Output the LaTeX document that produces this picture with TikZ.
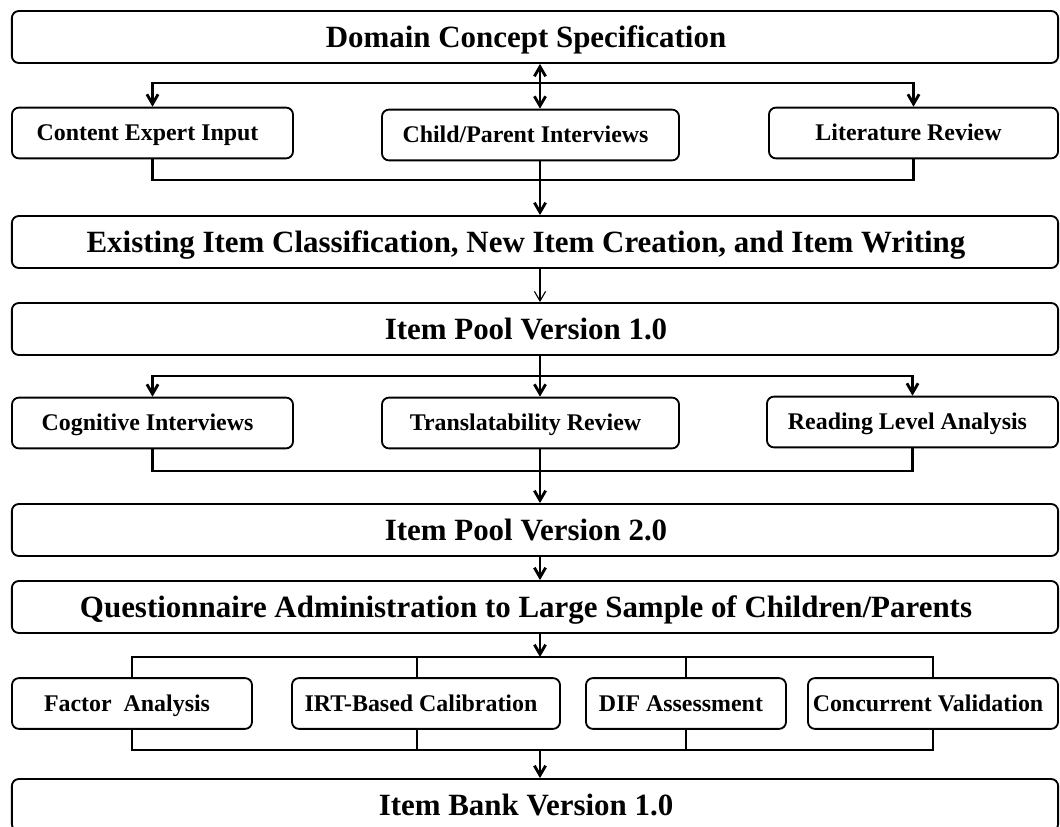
\documentclass[tikz,border=0pt]{standalone}
\usepackage{fontspec}
\setmainfont{Liberation Serif}
\usetikzlibrary{arrows.meta}

\tikzset{
	bigbox/.style={draw,line width=1.3pt,rounded corners=5pt,inner sep=0pt,
		minimum width=26.15cm,minimum height=1.3cm,text height=14.5pt,text depth=0pt,
		font=\fontsize{22}{25}\selectfont\bfseries,execute at end node=\hspace*{0.45cm}},
	smallbox/.style={draw,line width=1.3pt,rounded corners=5pt,inner sep=0pt,
		minimum height=1.27cm,text height=11.2pt,text depth=0pt,
		font=\fontsize{17}{20}\selectfont\bfseries,execute at end node=\hspace*{0.25cm}},
	link/.style={line width=2pt},
	thinlink/.style={line width=0.8pt},
	>={Straight Barb[length=2.4mm,width=2.8mm]}
}

\begin{document}
\begin{tikzpicture}[x=0.025cm,y=-0.025cm]
	\useasboundingbox (0,0) rectangle (1060,827);
	\node[bigbox] (dcs) at (535,37) {Domain Concept Specification};
	\node[smallbox,minimum width=7.025cm] (cei) at (152.5,133) {Content Expert Input};
	\node[smallbox,minimum width=7.425cm] (cpi) at (530.5,135) {Child/Parent Interviews};
	\node[smallbox,minimum width=7.225cm] (lit) at (913.5,133) {Literature Review};
	\node[bigbox] (eic) at (535,242) {Existing Item Classification, New Item Creation, and Item Writing};
	\node[bigbox] (ip1) at (535,329) {Item Pool Version 1.0};
	\node[smallbox,minimum width=7.025cm] (cog) at (152.5,423) {Cognitive Interviews};
	\node[smallbox,minimum width=7.425cm] (tra) at (530.5,423) {Translatability Review};
	\node[smallbox,minimum width=7.275cm] (rla) at (912.5,422) {Reading Level Analysis};
	\node[bigbox] (ip2) at (535,530) {Item Pool Version 2.0};
	\node[bigbox] (qa) at (535,607) {Questionnaire Administration to Large Sample of Children/Parents};
	\node[smallbox,minimum width=6cm] (fa) at (132,703.5) {Factor\ \ Analysis};
	\node[smallbox,minimum width=6.7cm] (irt) at (426,703.5) {IRT-Based Calibration};
	\node[smallbox,minimum width=5cm] (dif) at (686,703.5) {DIF Assessment};
	\node[smallbox,minimum width=6.25cm] (cv) at (933,703.5) {Concurrent Validation};
	\node[bigbox] (ib) at (535,805) {Item Bank Version 1.0};

	\coordinate (j1) at (540,83);
	\coordinate (j2) at (540,180);
	\coordinate (j3) at (540,376);
	\coordinate (j4) at (540,471);
	\coordinate (j5) at (540,657);
	\coordinate (j6) at (540,750);
	\coordinate (t1) at (417,0);

	\draw[link,<->] (dcs.south -| j1) -- (cpi.north -| j1);
	\draw[link,->] (j1) -| (cei);
	\draw[link,->] (j1) -| (lit);
	\draw[link] (cei) |- (j2) -| (lit);
	\draw[link,->] (cpi.south -| j2) -- (eic.north -| j2);
	\draw[thinlink,->] (eic.south -| j2) -- (ip1.north -| j2);

	\draw[link] (ip1.south -| j3) -- (j3);
	\draw[link,->] (j3) -| (cog);
	\draw[link,->] (j3) -| (rla);
	\draw[link,->] (j3) -- (tra.north -| j3);
	\draw[link] (cog) |- (j4) -| (rla);
	\draw[link,->] (tra.south -| j4) -- (ip2.north -| j4);
	\draw[link,->] (ip2.south -| j4) -- (qa.north -| j4);

	\draw[link,->] (qa.south -| j5) -- (j5);
	\draw[link] (fa) |- (j5) -| (cv);
	\draw[thinlink] (j5 -| t1) -- (irt.north -| t1);
	\draw[thinlink] (dif.north |- j5) -- (dif.north);
	\draw[link] (fa) |- (j6) -| (cv);
	\draw[thinlink] (irt.south -| t1) -- (j6 -| t1);
	\draw[thinlink] (dif) -- (dif.south |- j6);
	\draw[link,->] (j6) -- (ib.north -| j6);
\end{tikzpicture}
\end{document}
